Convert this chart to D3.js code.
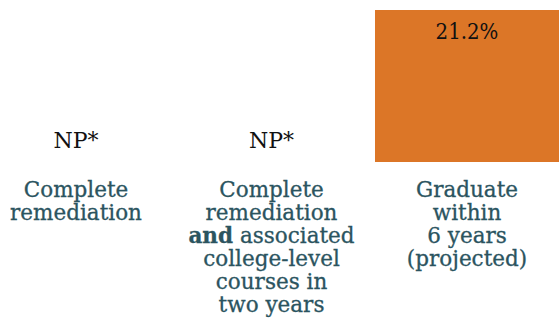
<!DOCTYPE html>
<meta charset="utf-8">
<style>
    body { margin: 0; background: #fff; }
    svg { display: block; }
    .val { font: 22px "DejaVu Serif", serif; fill: #111; }
    .cat { font: 21.5px "DejaVu Serif", serif; fill: #2b545f; stroke: #2b545f; stroke-width: 0.3px; }
</style>
<body>
<script src="https://d3js.org/d3.v7.min.js"></script>
<script>
    // categories and values (null = not provided)
    var categories = ["remediation", "remediationCourses", "graduate"];
    var values = [null, null, 21.2];
    var valueLabels = ["NP*", "NP*", "21.2%"];
    var categoryLines = [
        ["Complete", "remediation"],
        ["Complete", "remediation", "*and* associated", "college-level", "courses in", "two years"],
        ["Graduate", "within", "6 years", "(projected)"]
    ];

    var width = 559, height = 320;

    var svg = d3.select("body").append("svg")
        .attr("width", width)
        .attr("height", height);

    var x = d3.scaleBand()
        .domain(categories)
        .range([-16, 559])
        .paddingInner(0.0588)
        .paddingOuter(0);

    var y = d3.scaleLinear()
        .domain([0, 21.2])
        .range([162, 10]);

    var rows = categories.map(function(c, i) {
        return { cat: c, value: values[i], label: valueLabels[i], lines: categoryLines[i] };
    });

    // bars
    svg.selectAll(".bar")
        .data(rows.filter(function(d) { return d.value != null; }))
        .enter().append("rect")
        .attr("class", "bar")
        .attr("x", function(d) { return x(d.cat); })
        .attr("width", x.bandwidth())
        .attr("y", function(d) { return y(d.value); })
        .attr("height", function(d) { return y(0) - y(d.value); })
        .attr("fill", "#dc7627");

    // value labels
    svg.selectAll(".val")
        .data(rows)
        .enter().append("text")
        .attr("class", "val")
        .attr("text-anchor", "middle")
        .attr("x", function(d) { return x(d.cat) + x.bandwidth() / 2; })
        .attr("y", function(d) {
            return d.value != null ? y(d.value) + 29 : y(0) - 14;
        })
        .style("font-stretch", function(d) { return d.value != null ? "condensed" : null; })
        .text(function(d) { return d.label; });

    // category labels, multi-line
    var cat = svg.selectAll(".cat")
        .data(rows)
        .enter().append("text")
        .attr("class", "cat")
        .attr("text-anchor", "middle")
        .attr("transform", function(d) {
            return "translate(" + (x(d.cat) + x.bandwidth() / 2) + "," + (y(0) + 35) + ")";
        });

    cat.each(function(d) {
        var t = d3.select(this);
        d.lines.forEach(function(line, i) {
            var row = t.append("tspan")
                .attr("x", 0)
                .attr("y", i * 23);
            var m = line.match(/^\*(.+)\*(.*)$/);
            if (m) {
                row.append("tspan").attr("font-weight", "bold").text(m[1]);
                row.append("tspan").text(m[2]);
            } else {
                row.text(line);
            }
        });
    });
</script>
</body>
